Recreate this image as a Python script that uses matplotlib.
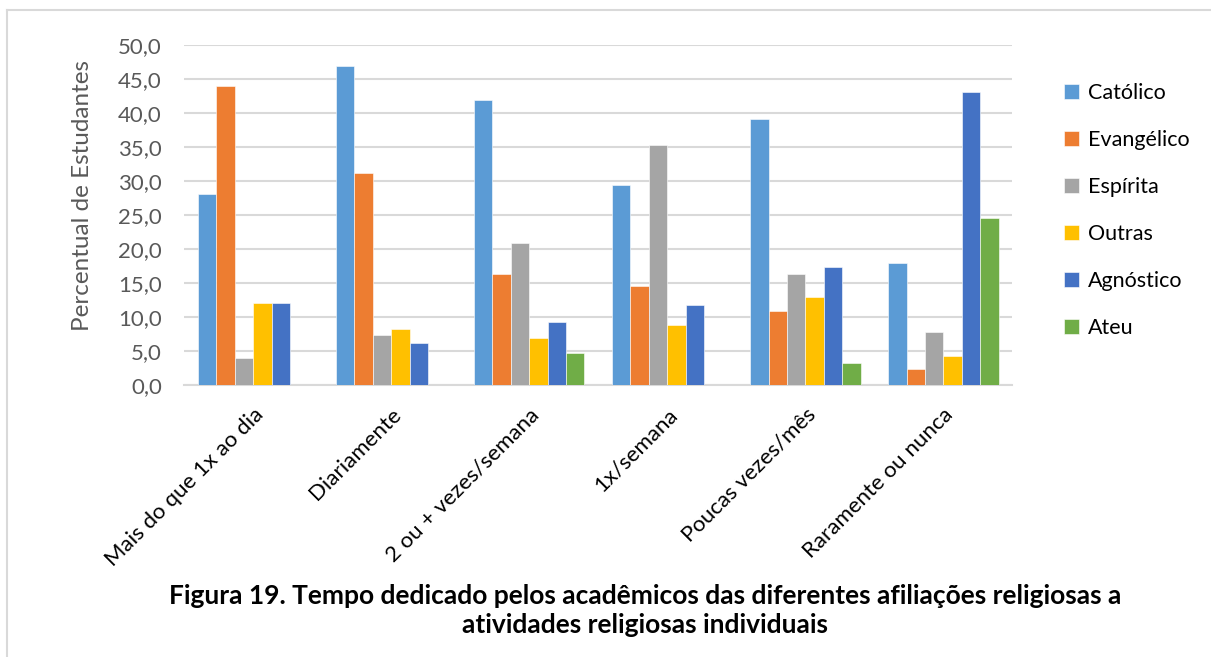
import numpy as np
import matplotlib
matplotlib.use("Agg")
import matplotlib.pyplot as plt
from matplotlib.lines import Line2D

plt.rcParams['font.family'] = ['Lato', 'DejaVu Sans']

# frequency categories and percentage of students per religious affiliation
categories = ["Mais do que 1x ao dia", "Diariamente", "2 ou + vezes/semana",
              "1x/semana", "Poucas vezes/mês", "Raramente ou nunca"]
catolico = [28.0, 46.9, 41.8, 29.4, 39.1, 17.9]
evangelico = [43.9, 31.2, 16.3, 14.6, 10.8, 2.3]
espirita = [4.0, 7.3, 20.9, 35.3, 16.3, 7.8]
outras = [12.0, 8.3, 6.9, 8.8, 13.0, 4.2]
agnostico = [12.0, 6.2, 9.3, 11.8, 17.4, 43.0]
ateu = [0.0, 0.0, 4.7, 0.0, 3.3, 24.6]

series_names = ["Católico", "Evangélico", "Espírita", "Outras", "Agnóstico", "Ateu"]
series_values = [catolico, evangelico, espirita, outras, agnostico, ateu]
colors = ["#5B9BD5", "#ED7D31", "#A5A5A5", "#FFC000", "#4472C4", "#70AD47"]

fig = plt.figure(figsize=(12.11, 6.57), dpi=100)
ax = fig.add_axes([0.152, 0.414, 0.684, 0.518])

x = np.arange(len(categories))
width = 0.8 / len(series_names)
for i, (name, vals, c) in enumerate(zip(series_names, series_values, colors)):
    offset = (i - (len(series_names) - 1) / 2) * width
    ax.bar(x + offset, vals, width, color=c, label=name, zorder=3,
           edgecolor="white", linewidth=0.4)

ax.set_xlim(-0.5, len(categories) - 0.5)
ax.set_ylim(0, 50)
ax.set_yticks(np.arange(0, 51, 5))
ax.set_yticklabels([f"{v:.1f}".replace(".", ",") for v in np.arange(0, 51, 5)])
ax.grid(axis="y", color="#D9D9D9", linewidth=1.5, zorder=0)
ax.set_axisbelow(True)
for s in ["top", "right", "left"]:
    ax.spines[s].set_visible(False)
ax.spines["bottom"].set_color("#D9D9D9")
ax.spines["bottom"].set_linewidth(1.5)
ax.tick_params(axis="y", length=0, labelsize=16, colors="#595959", pad=16)

ax.set_xticks(x)
ax.set_xticklabels(categories, rotation=45, ha="right", rotation_mode="anchor",
                   color="black")
ax.tick_params(axis="x", length=0, labelsize=16, pad=14)

ax.set_ylabel("Percentual de Estudantes", fontsize=17.5, color="#595959")
ax.yaxis.set_label_coords(-0.11, 0.556)

ax.legend(loc="upper left", bbox_to_anchor=(1.052, 0.912), frameon=False,
          fontsize=15.5, handlelength=0.7, handleheight=0.7, handletextpad=0.4,
          labelspacing=1.25, borderaxespad=0)

fig.text(0.533, 0.0715,
         "Figura 19. Tempo dedicado pelos acadêmicos das diferentes afiliações religiosas a\n"
         "atividades religiosas individuais",
         ha="center", va="center", fontsize=19, fontweight="bold", linespacing=1.25)

# light frame around the chart area
fig.add_artist(Line2D([0.006, 0.006], [0, 0.985], transform=fig.transFigure,
                      color="#D9D9D9", linewidth=1.5))
fig.add_artist(Line2D([0.006, 1.0], [0.985, 0.985], transform=fig.transFigure,
                      color="#D9D9D9", linewidth=1.5))

fig.savefig("out.png", dpi=100)
